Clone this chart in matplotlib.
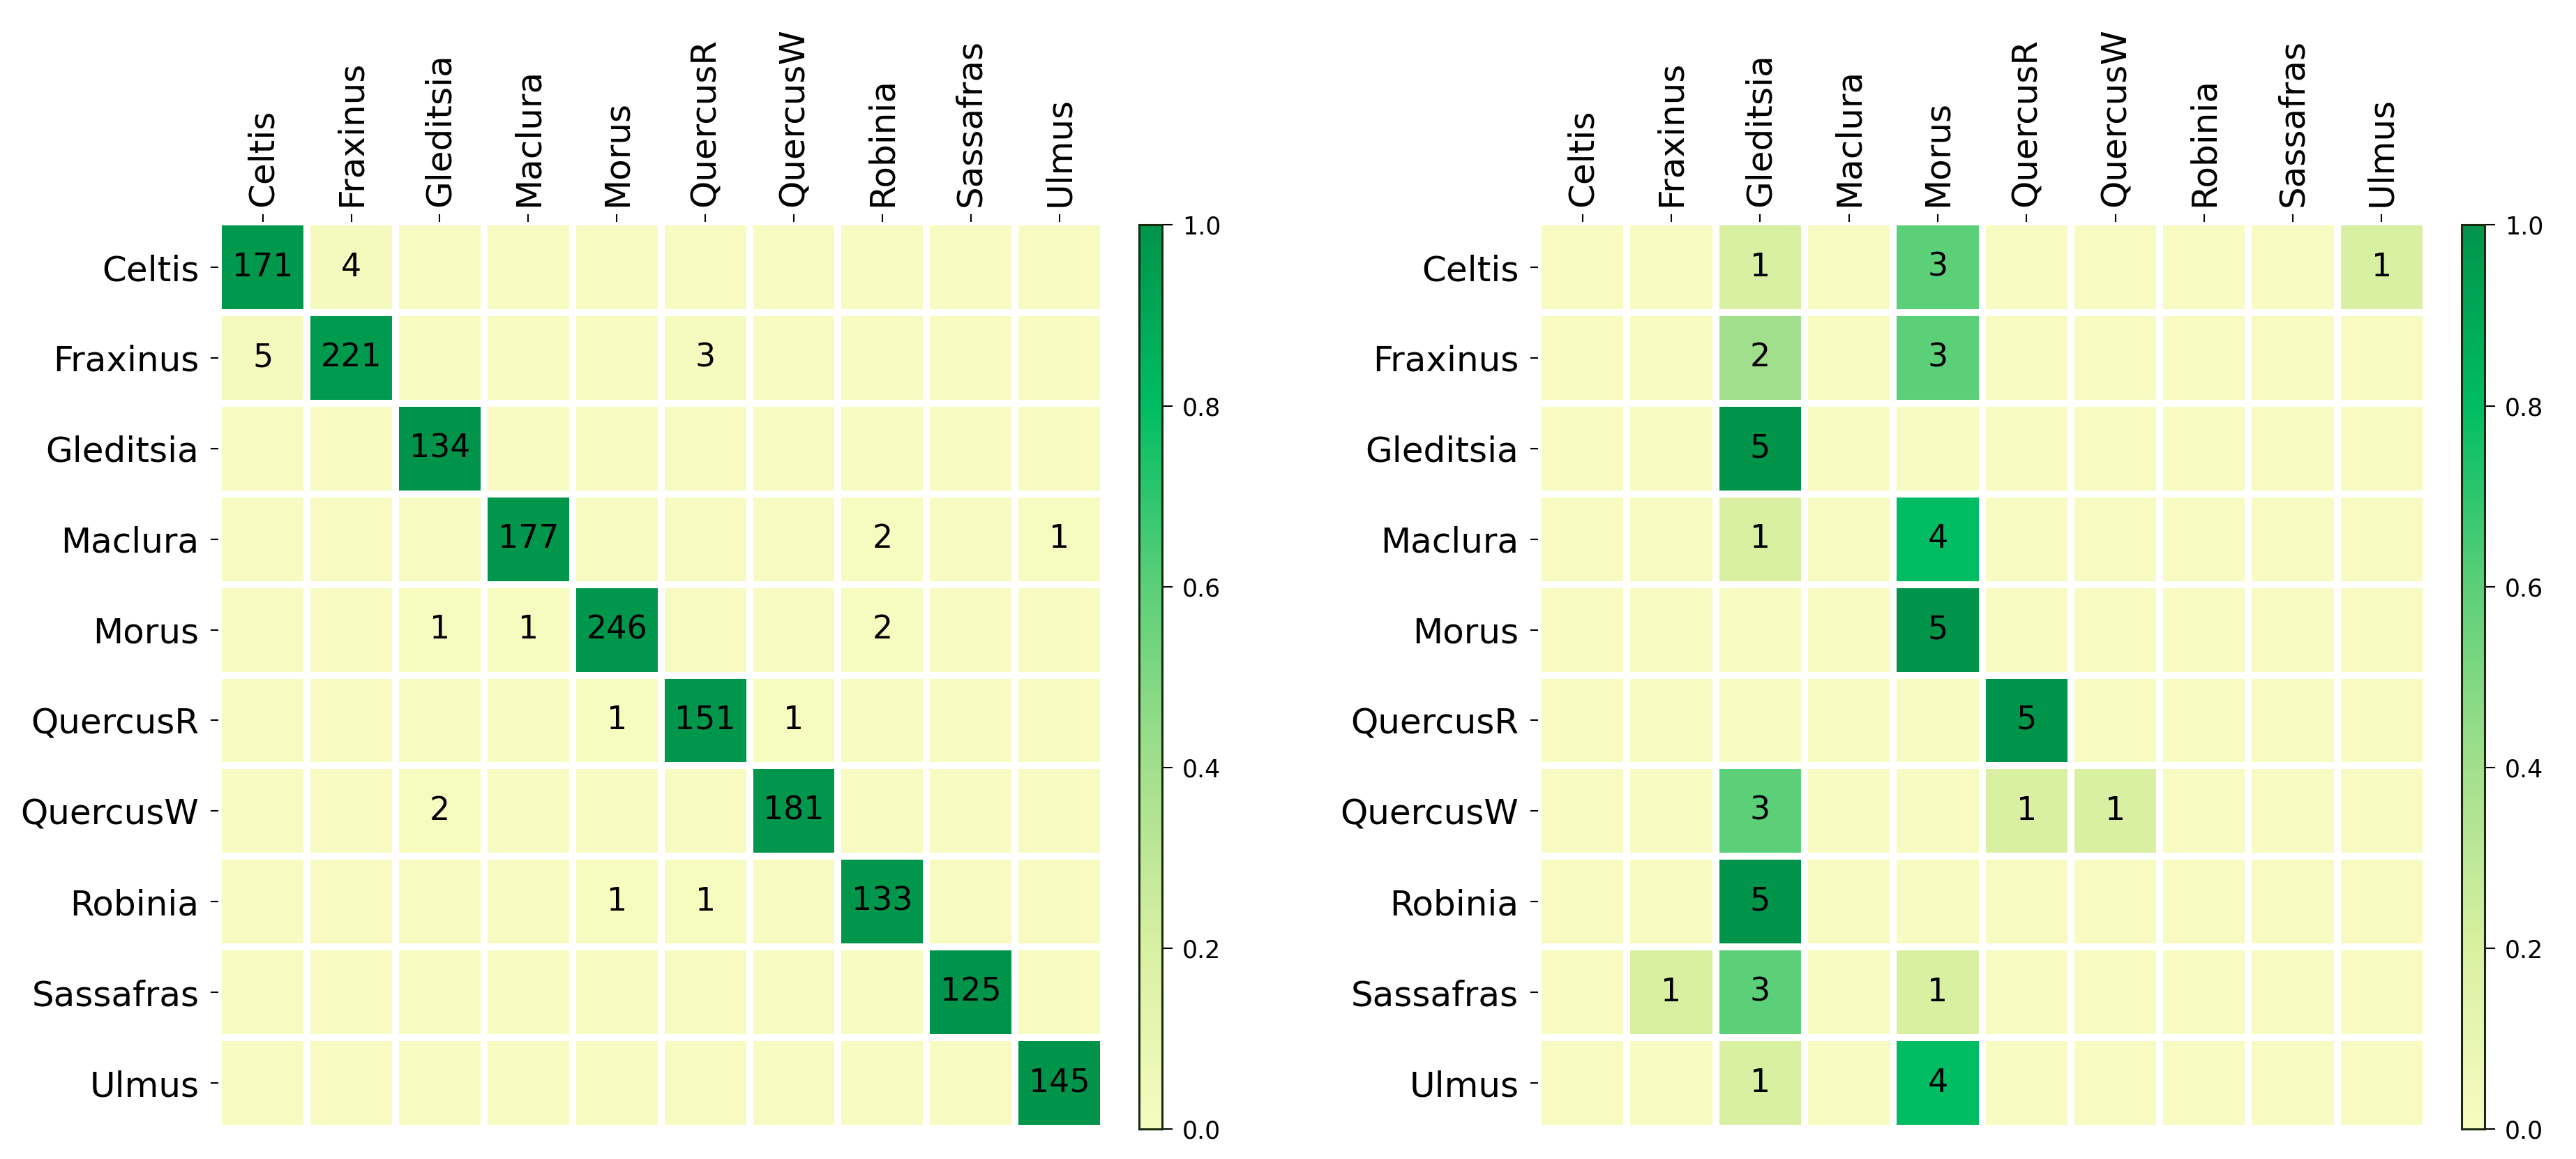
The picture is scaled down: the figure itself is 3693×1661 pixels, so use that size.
import numpy as np
import matplotlib
matplotlib.use('Agg')
import matplotlib.pyplot as plt
from matplotlib.colors import LinearSegmentedColormap

# 树种名称
species = ['Celtis', 'Fraxinus', 'Gleditsia', 'Maclura', 'Morus',
           'QuercusR', 'QuercusW', 'Robinia', 'Sassafras', 'Ulmus']

# 左图 混淆矩阵（行：真实，列：预测）
left_counts = [
    [171, 4, 0, 0, 0, 0, 0, 0, 0, 0],
    [5, 221, 0, 0, 0, 3, 0, 0, 0, 0],
    [0, 0, 134, 0, 0, 0, 0, 0, 0, 0],
    [0, 0, 0, 177, 0, 0, 0, 2, 0, 1],
    [0, 0, 1, 1, 246, 0, 0, 2, 0, 0],
    [0, 0, 0, 0, 1, 151, 1, 0, 0, 0],
    [0, 0, 2, 0, 0, 0, 181, 0, 0, 0],
    [0, 0, 0, 0, 1, 1, 0, 133, 0, 0],
    [0, 0, 0, 0, 0, 0, 0, 0, 125, 0],
    [0, 0, 0, 0, 0, 0, 0, 0, 0, 145],
]

# 右图 混淆矩阵
right_counts = [
    [0, 0, 1, 0, 3, 0, 0, 0, 0, 1],
    [0, 0, 2, 0, 3, 0, 0, 0, 0, 0],
    [0, 0, 5, 0, 0, 0, 0, 0, 0, 0],
    [0, 0, 1, 0, 4, 0, 0, 0, 0, 0],
    [0, 0, 0, 0, 5, 0, 0, 0, 0, 0],
    [0, 0, 0, 0, 0, 5, 0, 0, 0, 0],
    [0, 0, 3, 0, 0, 1, 1, 0, 0, 0],
    [0, 0, 5, 0, 0, 0, 0, 0, 0, 0],
    [0, 1, 3, 0, 1, 0, 0, 0, 0, 0],
    [0, 0, 1, 0, 4, 0, 0, 0, 0, 0],
]

cbar_ticks = [0.0, 0.2, 0.4, 0.6, 0.8, 1.0]

cmap = LinearSegmentedColormap.from_list('yg', [
    (0.0, '#f7fbc1'), (0.2, '#d9f0a2'), (0.4, '#a2df8c'),
    (0.6, '#5ccf79'), (0.8, '#00bd63'), (1.0, '#00944a')])


def draw(ax, cax, counts):
    counts = np.array(counts)
    norm = counts / counts.sum(axis=1, keepdims=True)
    n = len(species)
    mesh = ax.pcolormesh(norm, cmap=cmap, vmin=0, vmax=1,
                         edgecolors='white', linewidth=5.8)
    ax.set_xlim(0, n)
    ax.set_ylim(n, 0)
    for i in range(n):
        for j in range(n):
            if counts[i, j] > 0:
                ax.text(j + 0.5, i + 0.5, str(counts[i, j]), ha='center', va='center',
                        fontsize=33, color='black')
    ax.xaxis.tick_top()
    ax.set_xticks(np.arange(n) + 0.5)
    ax.set_yticks(np.arange(n) + 0.5)
    ax.set_xticklabels(species, rotation=90, fontsize=36)
    ax.set_yticklabels(species, fontsize=36)
    ax.tick_params(axis='x', length=8, width=1.5, pad=8)
    ax.tick_params(axis='y', length=8, width=1.5, pad=12)
    for s in ax.spines.values():
        s.set_visible(False)

    cb = plt.colorbar(mesh, cax=cax, ticks=cbar_ticks)
    cb.ax.tick_params(labelsize=25, length=11, width=1.5, pad=10)
    cb.outline.set_linewidth(2.2)
    cb.outline.set_edgecolor('#1a2a10')
    return cb


fig = plt.figure(figsize=(36.93, 16.61), dpi=100)
ax1 = fig.add_axes([0.0848, 0.0265, 0.3436, 0.782])
cax1 = fig.add_axes([0.4422, 0.0259, 0.0089, 0.780])
ax2 = fig.add_axes([0.5971, 0.0265, 0.3447, 0.782])
cax2 = fig.add_axes([0.9556, 0.0259, 0.0089, 0.780])

draw(ax1, cax1, left_counts)
draw(ax2, cax2, right_counts)

fig.savefig('out.png', dpi=100, facecolor='white')
print('end')
